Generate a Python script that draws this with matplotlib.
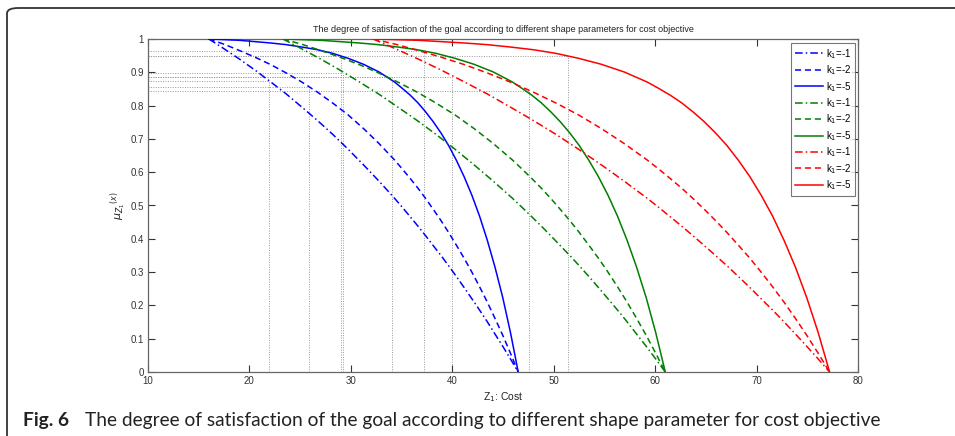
import matplotlib.pyplot as plt
from matplotlib.patches import FancyBboxPatch

# cost values along each group of curves (blue, green, red), start -> zero point
z_blue = [16.00, 17.53, 19.05, 20.58, 22.10, 23.63, 25.15, 26.68, 28.20, 29.73, 31.25,
          32.78, 34.30, 35.06, 35.83, 36.59, 37.35, 38.11, 38.88, 39.64, 40.40,
          41.16, 41.93, 42.69, 43.45, 44.21, 44.98, 45.74, 46.50]
z_green = [23.30, 25.19, 27.07, 28.96, 30.84, 32.73, 34.61, 36.50, 38.38, 40.27, 42.15,
           44.04, 45.92, 46.86, 47.81, 48.75, 49.69, 50.63, 51.58, 52.52, 53.46,
           54.40, 55.35, 56.29, 57.23, 58.17, 59.12, 60.06, 61.00]
z_red = [32.20, 34.45, 36.70, 38.95, 41.20, 43.45, 45.70, 47.95, 50.20, 52.45, 54.70,
         56.95, 59.20, 60.33, 61.45, 62.58, 63.70, 64.83, 65.95, 67.08, 68.20,
         69.33, 70.45, 71.58, 72.70, 73.83, 74.95, 76.08, 77.20]

# degree of satisfaction read along those points for each shape parameter
mu_k1 = [1.000, 0.970, 0.939, 0.906, 0.871, 0.835, 0.796, 0.756, 0.714, 0.669, 0.622,
         0.573, 0.522, 0.495, 0.467, 0.439, 0.410, 0.380, 0.350, 0.319, 0.287,
         0.254, 0.220, 0.186, 0.151, 0.114, 0.077, 0.039, 0.0]
mu_k2 = [1.000, 0.984, 0.965, 0.945, 0.923, 0.898, 0.871, 0.841, 0.808, 0.772, 0.731,
         0.686, 0.637, 0.610, 0.582, 0.553, 0.522, 0.489, 0.455, 0.419, 0.381,
         0.342, 0.300, 0.256, 0.210, 0.161, 0.110, 0.056, 0.0]
mu_k5 = [1.000, 0.998, 0.996, 0.992, 0.988, 0.983, 0.976, 0.968, 0.957, 0.942, 0.924,
         0.901, 0.871, 0.852, 0.832, 0.809, 0.782, 0.752, 0.718, 0.680, 0.636,
         0.587, 0.531, 0.468, 0.396, 0.315, 0.223, 0.118, 0.0]

# solution points marked with dotted guide lines
sol_z = [21.9, 25.9, 29.0, 29.2, 34.1, 37.2, 40.0, 47.6, 51.4]
sol_mu = [0.874, 0.857, 0.949, 0.899, 0.887, 0.965, 0.887, 0.844, 0.949]

labels = ['k$_1$=-1', 'k$_1$=-2', 'k$_1$=-5']

plt.rcParams['font.family'] = ['Liberation Sans', 'DejaVu Sans']

fig = plt.figure(figsize=(9.55, 4.36), dpi=100)
ax = fig.add_axes([148 / 955, 64 / 436, 710 / 955, 333 / 436])

# guide lines
for z, mu in zip(sol_z, sol_mu):
    ax.plot([10, z], [mu, mu], ls=(0, (1, 1.5)), color='#999999', lw=0.7, zorder=1)
    ax.plot([z, z], [0, mu], ls=(0, (1, 1.5)), color='#999999', lw=0.7, zorder=1)

styles = [(0, (5, 2, 1, 2)), (0, (4, 2.5)), '-']
for zs, col in [(z_blue, '#0000ff'), (z_green, '#007f00'), (z_red, '#ff0000')]:
    for mu, ls, lab in zip([mu_k1, mu_k2, mu_k5], styles, labels):
        ax.plot(zs, mu, color=col, ls=ls, lw=1.1, label=lab, zorder=3)

ax.set_xlim(10, 80)
ax.set_ylim(0, 1)
ax.set_xticks(range(10, 81, 10))
ax.set_yticks([i / 10 for i in range(11)])
ax.set_yticklabels(['0'] + ['%.1f' % (i / 10) for i in range(1, 10)] + ['1'])
ax.tick_params(direction='in', length=5, width=0.8, colors='#333333', labelsize=7,
               top=True, right=True, pad=3)
for sp in ax.spines.values():
    sp.set_color('#666666')
    sp.set_linewidth(0.9)

ax.set_xlabel('Z$_1$: Cost', fontsize=7.5, color='#222222', labelpad=3)
ax.set_ylabel(r'$\mu_{Z_1}{}^{(x)}$', fontsize=8, color='#222222', labelpad=2)
ax.set_title('The degree of satisfaction of the goal according to different shape '
             'parameters for cost objective', fontsize=6.5, color='#222222', pad=5)

leg = ax.legend(loc='upper right', bbox_to_anchor=(0.996, 0.988), borderaxespad=0,
                fontsize=7, handlelength=2.9, handletextpad=0.3, labelspacing=0.27,
                frameon=True, fancybox=False, borderpad=0.4)
leg.get_frame().set_edgecolor('#555555')
leg.get_frame().set_linewidth(0.8)

# article frame and caption
frame = FancyBboxPatch((7 / 955, -20 / 436), 1.1, 448 / 436,
                       boxstyle='round,pad=0,rounding_size=0.012',
                       transform=fig.transFigure, fill=False,
                       edgecolor='#333333', lw=1.3, clip_on=False)
fig.patches.append(frame)
fig.text(23 / 955, 10 / 436, 'Fig. 6', fontsize=13.8, fontweight='bold',
         family=['Lato', 'DejaVu Sans'], color='#222222', va='baseline')
fig.text(85 / 955, 10 / 436, 'The degree of satisfaction of the goal according to '
         'different shape parameter for cost objective', fontsize=13.8,
         family=['Lato', 'DejaVu Sans'], color='#222222', va='baseline')

fig.savefig('out.png', dpi=100)
